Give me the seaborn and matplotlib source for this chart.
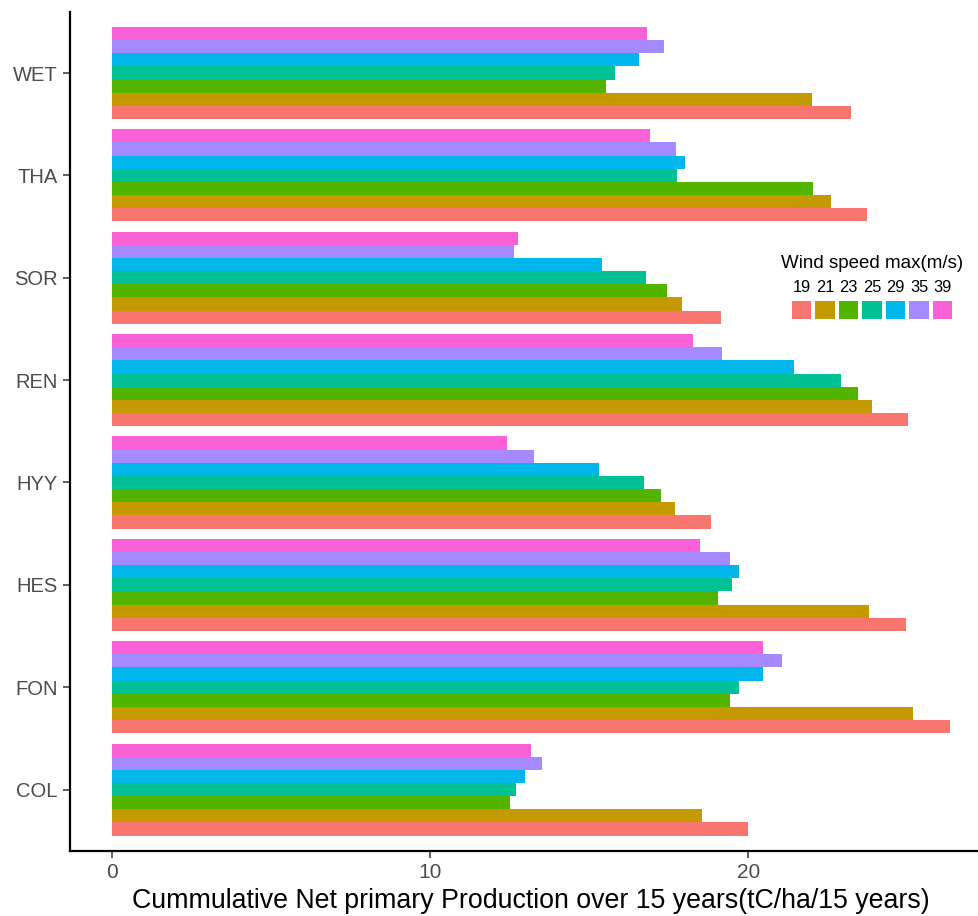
import numpy as np
import pandas as pd
import seaborn as sns
import matplotlib
matplotlib.use("Agg")
import matplotlib.pyplot as plt
from matplotlib.patches import Rectangle

# Sites (alphabetical) and the order in which they are stacked top to bottom
sites = ["COL", "FON", "HES", "HYY", "REN", "SOR", "THA", "WET"]
site_order = ["WET", "THA", "SOR", "REN", "HYY", "HES", "FON", "COL"]

# Maximum wind speed scenarios (m/s)
wind_speeds = ["19", "21", "23", "25", "29", "35", "39"]

# Cumulative NPP over 15 years (tC/ha/15 years), one list per wind speed, in `sites` order
npp_19 = [19.99, 26.33, 24.94, 18.81, 25.02, 19.14, 23.73, 23.23]
npp_21 = [18.54, 25.16, 23.78, 17.68, 23.89, 17.91, 22.59, 21.98]
npp_23 = [12.51, 19.43, 19.05, 17.24, 23.45, 17.43, 22.02, 15.54]
npp_25 = [12.69, 19.69, 19.49, 16.71, 22.89, 16.77, 17.76, 15.82]
npp_29 = [12.99, 20.46, 19.69, 15.32, 21.44, 15.40, 18.02, 16.57]
npp_35 = [13.51, 21.06, 19.42, 13.27, 19.18, 12.65, 17.71, 17.35]
npp_39 = [13.18, 20.45, 18.49, 12.41, 18.27, 12.76, 16.92, 16.80]

x_ticks = [0, 10, 20]

# ggplot-style hue palette
colors = ["#F8766D", "#C49A00", "#53B400", "#00C094", "#00B6EB", "#A58AFF", "#FB61D7"]
palette = dict(zip(wind_speeds, colors))

series = [npp_19, npp_21, npp_23, npp_25, npp_29, npp_35, npp_39]
rows = []
for ws, vals in zip(wind_speeds, series):
    for site, v in zip(sites, vals):
        rows.append({"site": site, "wind": ws, "npp": v})
df = pd.DataFrame(rows)

sns.set_theme(style="white")
plt.rcParams["font.family"] = ["Liberation Sans", "DejaVu Sans"]

fig = plt.figure(figsize=(9.79, 9.16), dpi=100)
ax = fig.add_axes([70 / 979, 1 - 851 / 916, 1 - 70 / 979, (851 - 11.6) / 916])

sns.barplot(
    data=df, y="site", x="npp", hue="wind",
    order=site_order, hue_order=wind_speeds[::-1],
    palette=palette, orient="h", width=0.9, gap=0,
    saturation=1, ax=ax, legend=False, linewidth=0,
)

ax.set_xlim(-1.31, 27.24)
ax.set_ylim(7.6, -0.6)
ax.set_xticks(x_ticks)
ax.set_xticklabels([str(t) for t in x_ticks])

for side in ["top", "right"]:
    ax.spines[side].set_visible(False)
for side in ["left", "bottom"]:
    ax.spines[side].set_color("black")
    ax.spines[side].set_linewidth(1.6)

ax.tick_params(axis="both", which="major", length=5, width=1.1, color="#333333",
               labelcolor="#4D4D4D", labelsize=14.5, direction="out",
               left=True, bottom=True, pad=4)
ax.tick_params(axis="x", labelsize=15)
ax.set_ylabel("")
ax.set_xlabel("Cummulative Net primary Production over 15 years(tC/ha/15 years)",
              fontsize=19.3, color="black")
ax.xaxis.set_label_coords(0.5 + 6 / 909, -0.044)

# Legend: title, labels above keys, keys in one row
lax = fig.add_axes([775 / 979, 1 - 330 / 916, 195 / 979, 85 / 916])
lax.set_xlim(0, 195)
lax.set_ylim(85, 0)
lax.axis("off")
lax.text(97, 18, "Wind speed max(m/s)", ha="center", va="center", fontsize=13.5, color="black")
for i, (ws, c) in enumerate(zip(wind_speeds, colors)):
    x0 = 17 + i * 23.5
    lax.add_patch(Rectangle((x0, 56), 19.5, 18, facecolor=c, edgecolor="none"))
    lax.text(x0 + 9.75, 42, ws, ha="center", va="center", fontsize=11.8, color="black")

fig.savefig("out.png", dpi=100)
